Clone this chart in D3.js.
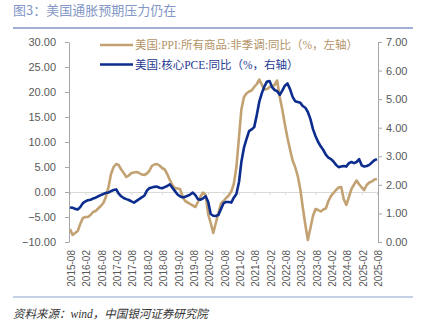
<!DOCTYPE html>
<html><head><meta charset="utf-8">
<script src="https://cdn.jsdelivr.net/npm/d3@7"></script>
<style>
html,body{margin:0;padding:0;background:#fff;}
svg{display:block;}
</style></head>
<body>
<svg id="chart" width="426" height="328"></svg>
<script>
const title = "图3：美国通胀预期压力仍在";
const source = "资料来源：wind，中国银河证券研究院";
const seriesNames = ["美国:PPI:所有商品:非季调:同比（%，左轴）", "美国:核心PCE:同比（%，右轴）"];
const startMonth = "2015-08";
const leftTicks = [-10, -5, 0, 5, 10, 15, 20, 25, 30];
const rightTicks = [0, 1, 2, 3, 4, 5, 6, 7];
// US PPI all commodities YoY (%), monthly 2015-08 .. 2025-08 (left axis)
const ppi = [
 -7.4,-8.6,-8.2,-7.8,-6.4,-5.2,-5.0,-5.0,-4.6,-4.0,-3.8,-3.3,
 -2.8,-2.2,-1.0,1.0,3.6,5.0,5.6,5.4,4.5,3.8,3.0,3.3,
 3.8,3.9,4.0,3.8,3.5,3.4,3.7,4.2,5.2,5.5,5.6,5.3,
 4.8,4.5,3.6,2.4,1.4,0.8,0.7,0.6,-0.8,-1.8,-2.1,-2.4,
 -2.7,-3.0,-2.0,-0.9,-0.1,-0.6,-4.5,-6.2,-8.2,-6.2,-4.2,-2.3,
 -1.8,-1.2,-0.7,0.1,1.6,5.0,11.0,16.5,19.0,19.7,20.1,20.3,
 21.0,21.6,22.5,21.4,20.5,20.6,21.0,21.2,21.4,22.3,19.0,16.5,
 13.5,10.8,8.5,6.3,5.0,3.2,0.5,-3.0,-6.5,-9.6,-7.2,-4.8,
 -3.4,-3.6,-3.9,-3.5,-3.3,-1.8,-0.8,-0.2,0.4,0.9,1.0,-1.4,
 -2.6,-1.0,0.6,1.5,2.3,1.5,0.9,0.4,1.4,1.9,2.1,2.5,
 2.6
];
// US core PCE YoY (%), monthly 2015-08 .. 2025-08 (right axis)
const pce = [
 1.21,1.20,1.16,1.14,1.22,1.36,1.42,1.46,1.48,1.52,1.55,1.60,
 1.64,1.68,1.72,1.73,1.78,1.82,1.84,1.70,1.60,1.54,1.50,1.47,
 1.42,1.38,1.44,1.50,1.56,1.62,1.80,1.88,1.91,1.93,1.94,1.90,
 1.88,1.92,1.96,2.02,1.90,1.78,1.66,1.60,1.56,1.58,1.62,1.66,
 1.73,1.64,1.50,1.48,1.53,1.60,1.40,0.98,0.92,0.91,0.95,1.15,
 1.36,1.40,1.40,1.38,1.55,1.68,2.10,2.80,3.30,3.60,3.88,3.94,
 4.02,4.45,4.92,5.22,5.45,5.62,5.63,5.42,5.32,5.28,5.15,5.30,
 5.47,5.55,5.35,5.08,4.93,4.90,4.87,4.76,4.70,4.55,4.30,3.95,
 3.70,3.50,3.35,3.22,3.06,2.95,2.90,2.82,2.70,2.62,2.64,2.66,
 2.64,2.76,2.80,2.76,2.80,2.90,2.68,2.64,2.66,2.70,2.78,2.86,
 2.90
];

const parse = d3.timeParse("%Y-%m");
const fmt = d3.timeFormat("%Y-%m");
const t0 = parse(startMonth);
const months = ppi.map((_, i) => d3.timeMonth.offset(t0, i));
const tickMonths = months.filter((_, i) => i % 6 === 0);

const svg = d3.select("#chart");
const L = 69, R = 378, T = 42, B = 242;
const x = d3.scaleTime().domain([months[0], months[months.length - 1]]).range([L + 1, R - 1]);
const yL = d3.scaleLinear().domain([-10, 30]).range([B, T]);
const yR = d3.scaleLinear().domain([0, 7]).range([B, T]);

const gold = "#c2a272", navy = "#0c2c8e", axisCol = "#a6a6a6", textCol = "#595959";
const sans = "Arial, 'Liberation Sans', 'Noto Sans CJK SC', sans-serif";
const serif = "'Liberation Serif', 'Times New Roman', 'Noto Sans CJK SC', serif";

// title
svg.append("text").attr("x", 13).attr("y", 15).text(title)
  .attr("font-family", "'Noto Sans CJK SC', sans-serif").attr("font-size", 13).attr("fill", "#8497c6");
svg.append("line").attr("x1", 13).attr("x2", 413).attr("y1", 28).attr("y2", 28)
  .attr("stroke", "#7f95c9").attr("stroke-width", 1.5);
svg.append("line").attr("x1", 13).attr("x2", 413).attr("y1", 297).attr("y2", 297)
  .attr("stroke", "#8ea3d2").attr("stroke-width", 1.2);
svg.append("text").attr("x", 13).attr("y", 318).text(source)
  .attr("font-family", serif).attr("font-style", "italic").attr("font-size", 11.5).attr("fill", "#333");

// zero line (category axis)
const xAxis = d3.axisBottom(x).tickValues(tickMonths).tickSize(3).tickFormat("");
const gx = svg.append("g").attr("transform", `translate(0,${yL(0)})`).call(xAxis);
gx.select(".domain").attr("stroke", "#d9d9d9").attr("stroke-width", 1.2);
gx.selectAll(".tick line").attr("stroke", "#d9d9d9");

// x labels at bottom
const xLab = d3.axisBottom(x).tickValues(tickMonths).tickSize(0).tickFormat(fmt);
const gxl = svg.append("g").attr("transform", `translate(1,${B})`).call(xLab);
gxl.select(".domain").remove();
gxl.selectAll("text").attr("transform", "rotate(-90)").attr("text-anchor", "end")
  .attr("x", -8).attr("y", 0).attr("dy", "0.35em")
  .attr("font-family", sans).attr("font-size", 10).attr("fill", textCol);

// left axis
const gl = svg.append("g").attr("transform", `translate(${L},0)`)
  .call(d3.axisLeft(yL).tickValues(leftTicks).tickSize(4).tickSizeOuter(0).tickPadding(9).tickFormat(d3.format(".2f")));
gl.select(".domain").attr("stroke", axisCol);
gl.selectAll(".tick line").attr("stroke", axisCol);
gl.selectAll("text").attr("font-family", sans).attr("font-size", 11).attr("fill", textCol);

// right axis
const gr = svg.append("g").attr("transform", `translate(${R},0)`)
  .call(d3.axisRight(yR).tickValues(rightTicks).tickSize(4).tickSizeOuter(0).tickPadding(4).tickFormat(d3.format(".2f")));
gr.select(".domain").attr("stroke", axisCol);
gr.selectAll(".tick line").attr("stroke", axisCol);
gr.selectAll("text").attr("font-family", sans).attr("font-size", 11).attr("fill", textCol);

// lines
svg.append("path").datum(ppi)
  .attr("d", d3.line().x((d, i) => x(months[i])).y(d => yL(d)))
  .attr("fill", "none").attr("stroke", gold).attr("stroke-width", 2.6).attr("stroke-linejoin", "round");
svg.append("path").datum(pce)
  .attr("d", d3.line().x((d, i) => x(months[i])).y(d => yR(d)))
  .attr("fill", "none").attr("stroke", navy).attr("stroke-width", 2.6).attr("stroke-linejoin", "round");

// legend
const legendColors = [gold, navy];
const lg = svg.append("g");
seriesNames.forEach((name, k) => {
  const yy = 45 + k * 19.5;
  lg.append("line").attr("x1", 100).attr("x2", 133).attr("y1", yy).attr("y2", yy)
    .attr("stroke", legendColors[k]).attr("stroke-width", 2.6);
  lg.append("text").attr("x", 135).attr("y", yy).attr("dy", "0.36em").text(name)
    .attr("font-family", serif).attr("font-size", 11.5).attr("fill", k === 0 ? "#b39467" : "#1f3a93");
});
</script>
</body></html>
